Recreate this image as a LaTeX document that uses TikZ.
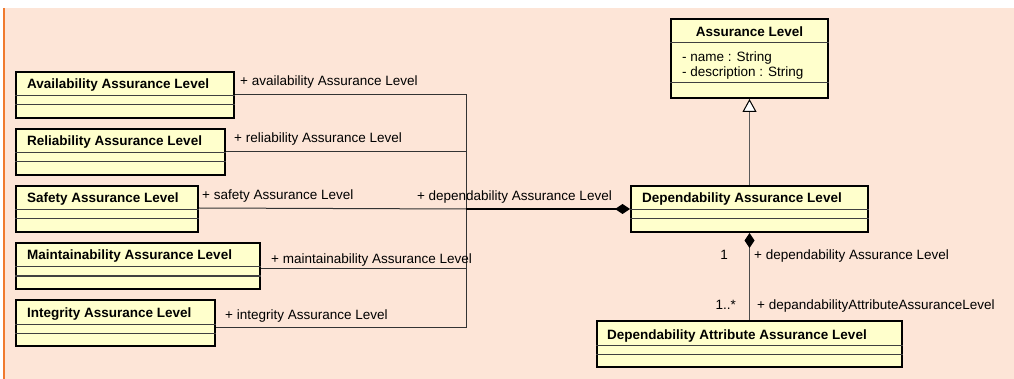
\documentclass[tikz,border=0pt]{standalone}
\usepackage{fontspec}
\setmainfont{Liberation Sans}
\usetikzlibrary{arrows.meta,positioning}

\definecolor{sheet}{HTML}{FDE5D7}
\definecolor{classfill}{HTML}{FFFFCC}
\definecolor{edgeline}{HTML}{F07A2E}

\begin{document}
\begin{tikzpicture}[x=1pt,y=-1pt,font=\fontsize{13.5}{16}\selectfont,
    classbox/.style={draw,line width=2pt,fill=classfill,anchor=north west,inner sep=0pt,minimum height=46pt},
    classname/.style={anchor=base west,inner sep=0pt,font=\fontsize{13.5}{16}\selectfont\bfseries},
    role/.style={anchor=base west,inner sep=0pt},
    compart/.style={line width=1pt,black!75},
    assoc/.style={line width=1pt,black!80},
    compo/.style={line width=2pt,black}]

    \useasboundingbox (0,0) rectangle (1014,379);

    % Sheet
    \fill [sheet] (3,8) rectangle (1014,379);
    \draw [edgeline,line width=1.3pt] (4,8) -- (4,379);

    % Left column of classes
    \node [classbox,minimum width=218pt] (avail) at (15,71) {};
    \node [classbox,minimum width=209pt] (relia) at (15,128) {};
    \node [classbox,minimum width=182pt] (safety) at (15,185) {};
    \node [classbox,minimum width=244pt] (maint) at (15,242) {};
    \node [classbox,minimum width=199pt] (integ) at (15,299) {};

    % Right classes
    \node [classbox,minimum width=157pt,minimum height=79pt] (al) at (670,18) {};
    \node [classbox,minimum width=237pt] (dep) at (630,185) {};
    \node [classbox,minimum width=305pt] (attr) at (596,320) {};

    % Compartments
    \foreach \c in {avail,relia,safety,maint,integ,dep,attr} {
        \draw [compart] ([yshift=-25pt]\c.north west) -- ([yshift=-25pt]\c.north east);
        \draw [compart] ([yshift=-34pt]\c.north west) -- ([yshift=-34pt]\c.north east);
    }
    \draw [compart] ([yshift=-25pt]al.north west) -- ([yshift=-25pt]al.north east);
    \draw [compart] ([yshift=-65pt]al.north west) -- ([yshift=-65pt]al.north east);

    % Class names
    \node [classname] (avail-t) at ([xshift=12pt,yshift=-18pt]avail.north west) {Availability Assurance Level};
    \node [classname] (relia-t) at ([xshift=12pt,yshift=-18pt]relia.north west) {Reliability Assurance Level};
    \node [classname] (safety-t) at ([xshift=12pt,yshift=-18pt]safety.north west) {Safety Assurance Level};
    \node [classname] (maint-t) at ([xshift=12pt,yshift=-18pt]maint.north west) {Maintainability Assurance Level};
    \node [classname] (integ-t) at ([xshift=12pt,yshift=-18pt]integ.north west) {Integrity Assurance Level};
    \node [classname] (dep-t) at ([xshift=12pt,yshift=-18pt]dep.north west) {Dependability Assurance Level};
    \node [classname] (attr-t) at ([xshift=11pt,yshift=-19pt]attr.north west) {Dependability Attribute Assurance Level};
    \node [classname,anchor=base] (al-t) at ([yshift=-18.5pt]al.north) {Assurance Level};

    % Attributes
    \node [role] (al-a1) at ([xshift=12pt,yshift=-44pt]al.north west) {- name : String};
    \node [role] (al-a2) at ([xshift=12pt,yshift=-59pt]al.north west) {- description : String};

    % Ports
    \coordinate (avail-p) at ([yshift=-24pt]avail.north east);
    \coordinate (relia-p) at ([yshift=-24pt]relia.north east);
    \coordinate (safety-p) at ([yshift=-23pt]safety.north east);
    \coordinate (maint-p) at ([yshift=-27pt]maint.north east);
    \coordinate (integ-p) at ([yshift=-28pt]integ.north east);
    \coordinate (bus) at ([xshift=-164pt]dep.west);

    % Associations to the bus
    \draw [assoc] (avail-p) -- (avail-p -| bus) -- (integ-p -| bus) -- (integ-p);
    \draw [assoc] (relia-p) -- (relia-p -| bus);
    \draw [assoc] (safety-p) -- (bus);
    \draw [assoc] (maint-p) -- (maint-p -| bus);
    \draw [compo,-{Diamond[length=15pt,width=10pt]}] (bus) -- (dep.west);

    % Role names
    \node [role] (avail-r) at ([xshift=5pt,yshift=9pt]avail-p) {+ availability Assurance Level};
    \node [role] (relia-r) at ([xshift=8pt,yshift=9pt]relia-p) {+ reliability Assurance Level};
    \node [role] (safety-r) at ([xshift=3pt,yshift=8pt]safety-p) {+ safety Assurance Level};
    \node [role] (maint-r) at ([xshift=10pt,yshift=6pt]maint-p) {+ maintainability Assurance Level};
    \node [role] (integ-r) at ([xshift=9pt,yshift=8pt]integ-p) {+ integrity Assurance Level};
    \node [role,anchor=base east] (dep-r) at ([xshift=-18pt,yshift=8pt]dep.west) {+ dependability Assurance Level};

    % Generalization
    \draw [assoc,black!65,-{Triangle[open,length=13pt,width=14pt,color=black,fill=white]}] (dep.north) -- (al.south);

    % Composition of attribute levels
    \draw [assoc,black!70,{Diamond[length=15pt,width=10pt,color=black]}-] (dep.south) -- (attr.north);
    \node [role,anchor=base east] (m-one) at ([xshift=-21.5pt,yshift=-26pt]dep.south) {1};
    \node [role] (dep-r2) at ([xshift=4.5pt,yshift=-26pt]dep.south) {+ dependability Assurance Level};
    \node [role,anchor=base east] (m-many) at ([xshift=-13.5pt,yshift=11pt]attr.north) {1..*};
    \node [role] (attr-r) at ([xshift=7.5pt,yshift=11pt]attr.north) {+ depandabilityAttributeAssuranceLevel};

\end{tikzpicture}
\end{document}
